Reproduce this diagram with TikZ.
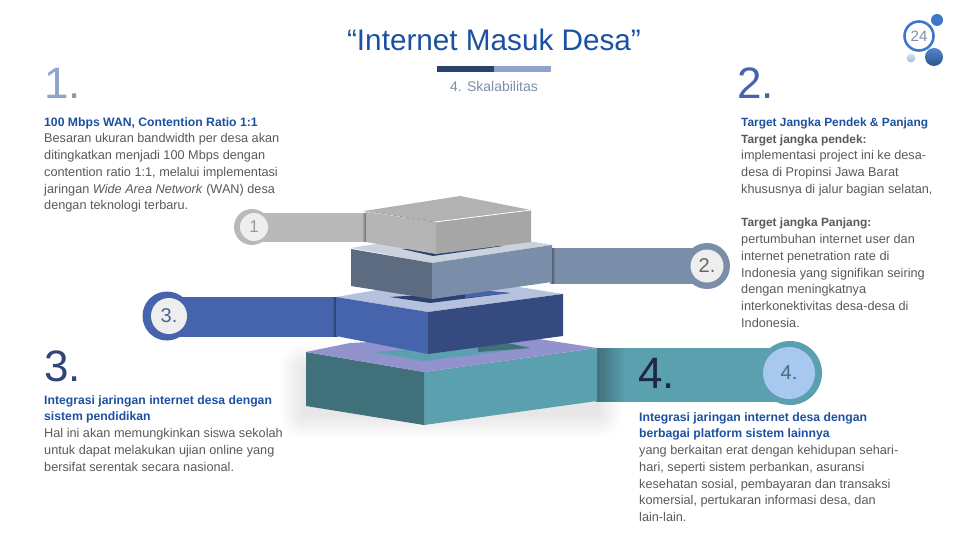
\documentclass[tikz,border=0pt]{standalone}
\usepackage{fontspec}
\setmainfont{Liberation Sans}
\definecolor{txtgray}{HTML}{595959}
\definecolor{numgray}{HTML}{666666}
\definecolor{headblue}{HTML}{1C50A0}
\definecolor{ballblue}{HTML}{3F78C8}
\definecolor{bandgray}{HTML}{B9B9B9}
\definecolor{bandslate}{HTML}{7B8EA9}
\definecolor{bandblue}{HTML}{4664AB}
\definecolor{bandteal}{HTML}{5BA0AF}
\definecolor{baseviolet}{HTML}{9292CC}
\definecolor{discpale}{HTML}{EEEEEE}
\definecolor{discsky}{HTML}{A9C8F0}
\tikzset{
  body_txt/.style = {anchor=north west, inner sep=0pt, align=left, text=txtgray, font=\fontsize{12.7}{16.75}\selectfont},
  big_num/.style = {anchor=west, inner sep=0pt, font=\fontsize{44}{44}\selectfont},
  ring/.style = {circle, inner sep=0pt, minimum size=#1},
  disc_txt/.style = {text=numgray, font=\fontsize{20}{20}\selectfont},
}
\newcommand{\bd}[1]{{\fontsize{12.2}{16.75}\selectfont\bfseries\color{headblue}#1}}
\newcommand{\bdr}[1]{{\fontsize{11.9}{16.75}\selectfont\bfseries#1}}

\begin{document}
\begin{tikzpicture}[x=1pt,y=-1pt]
  \useasboundingbox (0,0) rectangle (960,540);
  % floor shadow
  \foreach \rad in {2,4,...,24}
    \fill [black, opacity=0.009, rounded corners=\rad pt] (304-\rad,368-\rad) rectangle (598+\rad,414+\rad);
  % bands
  \fill [bandgray] (250,213) rectangle (368,242);
  \fill [bandslate] (550,248) rectangle (705,284);
  \fill [bandblue] (168,297) rectangle (338,337);
  \fill [bandteal] (595,348) rectangle (790,402);
  \foreach \rad in {3,6,...,27}
    \fill [black, opacity=0.03] (597,348) rectangle (597+\rad,402);
  \foreach \rad in {1,2,3}
    \fill [black, opacity=0.12] (366-\rad,213) rectangle (366,242);
  \foreach \rad in {1,2,3}
    \fill [black, opacity=0.12] (336-\rad,297) rectangle (336,337);
  \foreach \rad in {1,2,3}
    \fill [black, opacity=0.12] (552,248) rectangle (552+\rad,284);
  \node [ring=36pt, fill=bandgray] (ring1) at (252,227) {};
  \node [ring=28pt, fill=discpale, disc_txt, text=black!40, font=\fontsize{17}{17}\selectfont] (disc1) at (254,227) {1};
  \node [ring=46pt, fill=bandslate] (ring2) at (707,266) {};
  \node [ring=33pt, fill=discpale, disc_txt] (disc2) at (707,266) {2.};
  \node [ring=49pt, fill=bandblue] (ring3) at (167,316) {};
  \node [ring=36pt, fill=discpale, disc_txt, text=bandblue!70!numgray] (disc3) at (169,316) {3.};
  \node [ring=64pt, fill=bandteal] (ring4) at (790,373) {};
  \node [ring=52pt, fill=discsky, disc_txt, text=bandteal!70!black] (disc4) at (789,373) {4.};
  % base block
  \fill [bandteal] (424,372) -- (597,348) -- (597,401) -- (424,425) -- cycle;
  \fill [bandteal!70!black] (306,352) -- (424,372) -- (424,425) -- (306,406) -- cycle;
  \fill [baseviolet] (306,352) -- (350,343) -- (513,335) -- (597,348) -- (424,372) -- cycle;
  \fill [bandteal] (373,352) -- (423,361) -- (530,348) -- (507,343) -- cycle;
  \fill [bandteal!70!black] (478,352) -- (530,348) -- (507,343) -- (478,345) -- cycle;
  % third block
  \fill [bandblue!40!white] (336,297) -- (400,286) -- (500,284) -- (563,294) -- (428,312) -- cycle;
  \fill [bandblue!65!black] (390,297) -- (430,303) -- (510,293) -- (487,291) -- cycle;
  \fill [bandblue] (465,298) -- (510,293) -- (487,291) -- (465,293) -- cycle;
  \fill [bandblue] (336,297) -- (428,312) -- (428,354) -- (336,336) -- cycle;
  \fill [bandblue!75!black] (428,312) -- (563,294) -- (563,336) -- (428,354) -- cycle;
  % second block
  \fill [bandslate!40!white] (351,248) -- (400,240) -- (500,236) -- (552,245) -- (432,263) -- cycle;
  \fill [bandblue!65!black] (402,249) -- (433,256) -- (503,246) -- (480,243) -- cycle;
  \fill [bandslate!75!black] (351,249) -- (432,263) -- (432,299) -- (351,286) -- cycle;
  \fill [bandslate] (432,263) -- (552,245) -- (552,282) -- (432,299) -- cycle;
  % top block
  \fill [black!29] (366,212) -- (436,222) -- (436,254) -- (366,242) -- cycle;
  \fill [black!35] (436,222) -- (531,210) -- (531,242) -- (436,254) -- cycle;
  \fill [black!30] (364,211) -- (460,196) -- (531,210) -- (435,222) -- cycle;
  \draw [white, line width=0.8pt] (435,222) -- (531,210);
  \draw [black!55, line width=0.3pt, dashed] (364,211) -- (435,222);
  % headings
  \node [inner sep=0pt, text=headblue, font=\fontsize{29.7}{32}\selectfont] (title) at (494,40) {“Internet Masuk Desa”};
  \fill [bandblue!65!black] (437,66) rectangle (494,72);
  \fill [bandblue!60!white] (494,66) rectangle (551,72);
  \node [inner sep=0pt, text=bandslate, font=\fontsize{14}{16}\selectfont] (subtitle) at (494,86) {4. Skalabilitas};
  \node [big_num, text=bandblue!60!white] (num1) at (44,83) {1\textcolor{black!40}{.}};
  \node [big_num, text=bandblue] (num2) at (737,83) {2.};
  \node [big_num, text=bandblue!70!black] (num3) at (44,366) {3.};
  \node [big_num, text=bandblue!40!black] (num4) at (638,373) {4.};
  % texts
  \node [body_txt] (txt1) at (44,117) {\bd{100 Mbps WAN, Contention Ratio 1:1}\\Besaran ukuran bandwidth per desa akan\\ditingkatkan menjadi 100 Mbps dengan\\contention ratio 1:1, melalui implementasi\\jaringan \emph{Wide Area Network} (WAN) desa\\dengan teknologi terbaru.};
  \node [body_txt] (txt2a) at (741,117.5) {{\color{headblue}\bdr{Target Jangka Pendek \& Panjang}}\\\bdr{Target jangka pendek:}\\implementasi project ini ke desa-\\desa di Propinsi Jawa Barat\\khususnya di jalur bagian selatan,};
  \node [body_txt] (txt2b) at (741,218) {\bdr{Target jangka Panjang:}\\pertumbuhan internet user dan\\internet penetration rate di\\Indonesia yang signifikan seiring\\dengan meningkatnya\\interkonektivitas desa-desa di\\Indonesia.};
  \node [body_txt] (txt3) at (44,395) {\bd{Integrasi jaringan internet desa dengan}\\\bd{sistem pendidikan}\\Hal ini akan memungkinkan siswa sekolah\\untuk dapat melakukan ujian online yang\\bersifat serentak secara nasional.};
  \node [body_txt] (txt4) at (639,412) {\bd{Integrasi jaringan internet desa dengan}\\\bd{berbagai platform sistem lainnya}\\yang berkaitan erat dengan kehidupan sehari-\\hari, seperti sistem perbankan, asuransi\\kesehatan sosial, pembayaran dan transaksi\\komersial, pertukaran informasi desa, dan\\lain-lain.};
  % page badge
  \node [ring=29pt, draw=ballblue, line width=2.6pt, text=bandslate, font=\fontsize{15}{15}\selectfont] (page) at (919,36) {24};
  \node [ring=12pt, fill=ballblue] (ball1) at (937,20) {};
  \shade [top color=ballblue!90!white, bottom color=ballblue!70!black] (934,57) circle (9);
  \shade [top color=ballblue!20!white, bottom color=ballblue!50!white] (911,58) circle (4.5);
\end{tikzpicture}
\end{document}
